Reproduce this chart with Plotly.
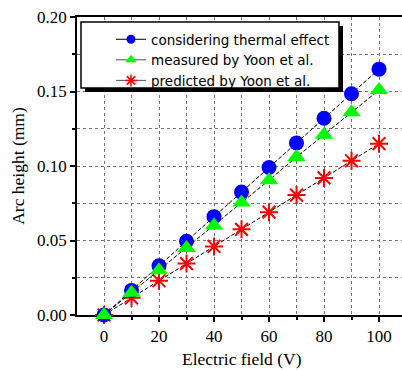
import plotly.graph_objects as go

voltage = [0, 10, 20, 30, 40, 50, 60, 70, 80, 90, 100]
thermal = [0.0, 0.0165, 0.033, 0.0495, 0.066, 0.0825, 0.099, 0.1155, 0.132, 0.1485, 0.165]
measured = [0.0, 0.015, 0.030, 0.045, 0.060, 0.0755, 0.0905, 0.106, 0.121, 0.136, 0.151]
predicted = [0.0, 0.0115, 0.023, 0.0345, 0.046, 0.0575, 0.069, 0.0805, 0.092, 0.1035, 0.115]

names = ["considering thermal effect", "measured by Yoon et al.", "predicted by Yoon et al."]
x_title = "Electric field (V)"
y_title = "Arc height (mm)"

markers = [
    dict(symbol="circle", color="#0000ff", line=dict(width=0)),
    dict(symbol="triangle-up", color="#00ff00", line=dict(width=0)),
    dict(symbol="asterisk-open", color="#ff0000", line=dict(color="#ff0000", width=1.5)),
]
big = [15, 16, 15]
small = [9, 10, 10]
legend_line_colors = ["black", "#555555", "#555555"]

fig = go.Figure()
line = dict(color="black", width=1, dash="4px,2px")
series = [thermal, measured, predicted]
for i in [2, 0, 1]:
    m = dict(markers[i], size=big[i])
    if i == 2:
        m["line"] = dict(color="#ff0000", width=2)
    fig.add_trace(go.Scatter(x=voltage, y=series[i], name=names[i], mode="lines+markers",
                             line=line, showlegend=False, cliponaxis=False, marker=m))
for i in range(3):
    fig.add_trace(go.Scatter(x=[None], y=[None], name=names[i], mode="lines+markers",
                             line=dict(color=legend_line_colors[i], width=1), legendrank=i + 1,
                             marker=dict(markers[i], size=small[i])))

L, T, W, H = 77, 17, 325, 298

def px(xp, yp):
    return (xp - L) / W, (T + H - yp) / H

x0, y0 = px(85, 26)
x1, y1 = px(343, 92)
fig.add_shape(type="rect", xref="paper", yref="paper", x0=x0, y0=y1, x1=x1, y1=y0,
              fillcolor="black", line=dict(width=0), layer="above")
x0, y0 = px(81, 22)
x1, y1 = px(339, 88)
fig.add_shape(type="rect", xref="paper", yref="paper", x0=x0, y0=y1, x1=x1, y1=y0,
              fillcolor="white", line=dict(color="black", width=1.5), layer="above")

tf = dict(family="Liberation Serif", size=17, color="black")
ttf = dict(family="Liberation Serif", size=17.5, color="black")

ax, ay = px(242, 359)
fig.add_annotation(text=x_title, xref="paper", yref="paper", x=ax, y=ay,
                   xanchor="center", yanchor="middle", showarrow=False, font=ttf,
                   borderpad=0)

lx, ly = px(111, 24)
fig.update_layout(
    width=402, height=370,
    margin=dict(l=L, r=0, t=T, b=370 - T - H, autoexpand=False),
    paper_bgcolor="white", plot_bgcolor="white",
    font=tf,
    showlegend=True,
    legend=dict(x=lx, y=ly, xanchor="left", yanchor="top", bgcolor="rgba(0,0,0,0)",
                borderwidth=0, font=dict(family="DejaVu Sans", size=13.5, color="black"),
                tracegroupgap=0),
    xaxis=dict(range=[-9.82, 108.36], tickvals=[0, 20, 40, 60, 80, 100], tickfont=tf,
               automargin=False,
               ticks="outside", ticklen=5, tickwidth=1.5, tickcolor="black",
               showline=True, linecolor="black", linewidth=1.5, mirror=True,
               showgrid=True, gridcolor="#777777", griddash="dot", gridwidth=1,
               zeroline=False, layer="below traces",
               minor=dict(dtick=10, tick0=0, ticks="outside", ticklen=3, tickcolor="black",
                          showgrid=True, gridcolor="#777777", griddash="dot", gridwidth=1)),
    yaxis=dict(range=[0, 0.2], dtick=0.05, tick0=0, tickformat=".2f", tickfont=tf,
               automargin=False,
               ticks="outside", ticklen=5, tickwidth=1.5, tickcolor="black",
               showline=True, linecolor="black", linewidth=1.5, mirror=False,
               showgrid=True, gridcolor="#777777", griddash="dot", gridwidth=1,
               zeroline=False, layer="below traces",
               minor=dict(dtick=0.025, tick0=0, ticks="outside", ticklen=3, tickcolor="black",
                          showgrid=True, gridcolor="#777777", griddash="dot", gridwidth=1),
               title=dict(text=y_title, standoff=8, font=ttf)),
)
fig.write_html("out.html")
